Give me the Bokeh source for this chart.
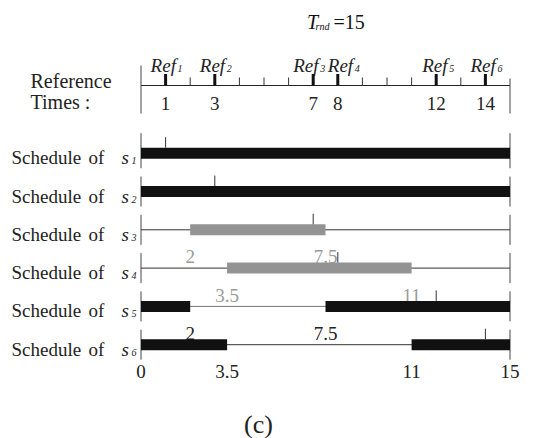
from bokeh.plotting import figure
from bokeh.models import Range1d
from bokeh.embed import file_html
from bokeh.resources import INLINE
from bokeh.core.properties import value

# ---------------- data ----------------
T_rnd = 15
ref_times = [1, 3, 7, 8, 12, 14]
ref_names = ["1", "2", "3", "4", "5", "6"]
minor_times = [2, 4, 5, 6, 9, 10, 11, 13]
ref_time_labels = ["1", "3", "7", "8", "12", "14"]
servers = ["1", "2", "3", "4", "5", "6"]
busy_start = [[0], [0], [2], [3.5], [0, 7.5], [0, 11]]
busy_end = [[15], [15], [7.5], [11], [2, 15], [3.5, 15]]
row_ref = [1, 3, 7, 8, 12, 14]
row_marks = [[], [], [2, 7.5], [3.5, 11], [2, 7.5], [0, 3.5, 11, 15]]
row_mark_labels = [[], [], ["2", "7.5"], ["3.5", "11"], ["2", "7.5"], ["0", "3.5", "11", "15"]]

# ---------------- styles / layout ----------------
bar_colors = ["#111111", "#111111", "#939393", "#939393", "#111111", "#111111"]
mark_colors = ["#222222", "#222222", "#9a9a9a", "#9a9a9a", "#222222", "#222222"]
line_colors = ["#333333", "#333333", "#333333", "#333333", "#777777", "#333333"]
ref_label_shift = [-15, -15, -20, -10, -14, -15]
FONT = value("Liberation Serif")
W, H = 526, 438
OFF = 0
PX0, PPU = 140.5, 24.6
x_start = -(PX0 - OFF) / PPU
x_end = x_start + W / PPU


def px(page_x):
    return x_start + (page_x - OFF) / PPU


def dpx(d):
    return d / PPU


p = figure(width=W, height=H, output_backend="svg", toolbar_location=None,
           x_range=Range1d(x_start, x_end), y_range=Range1d(H + OFF, OFF),
           x_axis_type=None, y_axis_type=None, min_border=0)
p.grid.visible = False
p.outline_line_color = None
p.background_fill_color = "white"

# title T_rnd = 15
p.text(x=[px(306.5)], y=[21], text=["T"], text_font=FONT, text_font_style="italic",
       text_font_size="20px", text_baseline="alphabetic", text_color="#111")
p.text(x=[px(315)], y=[26], text=["rnd"], text_font=FONT, text_font_style="italic",
       text_font_size="10px", text_baseline="alphabetic", text_color="#111")
p.text(x=[px(333)], y=[21], text=["=" + str(T_rnd)], text_font=FONT,
       text_font_size="20px", text_baseline="alphabetic", text_color="#111")

# reference timeline
AX_Y = 85
p.text(x=[px(30), px(30)], y=[80, 101], text=["Reference", "Times :"], text_font=FONT,
       text_font_size="20px", text_baseline="alphabetic", text_color="#222")
p.segment(x0=[0], y0=[AX_Y], x1=[T_rnd], y1=[AX_Y], line_color="#222", line_width=1)
p.segment(x0=[0], y0=[65], x1=[0], y1=[113], line_color="#444", line_width=1)
p.segment(x0=[T_rnd], y0=[78], x1=[T_rnd], y1=[113], line_color="#444", line_width=1)
p.segment(x0=minor_times, y0=[77] * len(minor_times), x1=minor_times,
          y1=[AX_Y] * len(minor_times), line_color="#333", line_width=1)
p.segment(x0=ref_times, y0=[73.5] * len(ref_times), x1=ref_times,
          y1=[AX_Y] * len(ref_times), line_color="#111", line_width=3)
p.text(x=ref_times, y=[103] * len(ref_times), text=ref_time_labels, text_font=FONT,
       text_font_size="19px", text_align="center", text_baseline="alphabetic",
       text_color="#222")
ref_x = [t + dpx(s) for t, s in zip(ref_times, ref_label_shift)]
p.text(x=ref_x, y=[65] * len(ref_times), text=["Ref"] * len(ref_times), text_font=FONT,
       text_font_style="italic", text_font_size="19px", text_baseline="alphabetic",
       text_color="#222")
p.text(x=[x + dpx(27) for x in ref_x], y=[68] * len(ref_times), text=ref_names,
       text_font=FONT, text_font_style="italic", text_font_size="10px",
       text_baseline="alphabetic", text_color="#222")

# schedule rows
ROW0, ROW_STEP = 152.7, 38.3
for i, s in enumerate(servers):
    ry = ROW0 + i * ROW_STEP
    # row label
    p.text(x=[px(11)], y=[ry + 4.5], text=["Schedule"], text_font=FONT,
           text_font_size="19px", text_baseline="alphabetic", text_color="#222")
    p.text(x=[px(88)], y=[ry + 4.5], text=["of"], text_font=FONT,
           text_font_size="19px", text_baseline="alphabetic", text_color="#222")
    p.text(x=[px(121)], y=[ry + 4.5], text=["s"], text_font=FONT, text_font_style="italic",
           text_font_size="19px", text_baseline="alphabetic", text_color="#222")
    p.text(x=[px(131)], y=[ry + 7.5], text=[s], text_font=FONT, text_font_style="italic",
           text_font_size="10px", text_baseline="alphabetic", text_color="#222")
    # base line
    p.segment(x0=[0], y0=[ry], x1=[T_rnd], y1=[ry], line_color=line_colors[i], line_width=1)
    # boundaries
    top_ext = 20 if i == 0 else 15
    p.segment(x0=[0, T_rnd], y0=[ry - top_ext] * 2, x1=[0, T_rnd], y1=[ry + 15] * 2,
              line_color="#444", line_width=1)
    # busy bars
    n = len(busy_start[i])
    p.quad(left=busy_start[i], right=busy_end[i], top=[ry - 5.5] * n, bottom=[ry + 5.5] * n,
           fill_color=bar_colors[i], line_color=None)
    # reference mark
    p.segment(x0=[row_ref[i]], y0=[ry - 16], x1=[row_ref[i]], y1=[ry - 5.5],
              line_color="#333", line_width=1)
    # boundary value labels
    if row_marks[i]:
        m = len(row_marks[i])
        p.text(x=row_marks[i], y=[ry + 27] * m, text=row_mark_labels[i], text_font=FONT,
               text_font_size="19px", text_align="center", text_baseline="alphabetic",
               text_color=mark_colors[i])

# caption
p.text(x=[px(258)], y=[424], text=["(c)"], text_font=FONT, text_font_size="26px",
       text_align="center", text_baseline="alphabetic", text_color="#222")

open("out.html", "w").write(file_html(p, INLINE))
